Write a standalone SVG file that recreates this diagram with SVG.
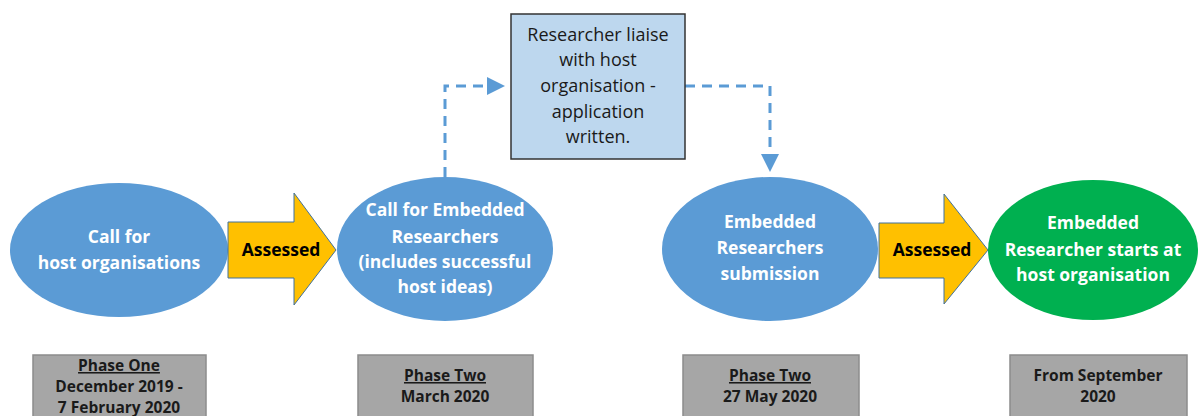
<svg xmlns="http://www.w3.org/2000/svg" width="1200" height="416" viewBox="0 0 1200 416">
<style>
.ell{fill:#5B9BD5;}
.grn{fill:#00B050;}
.arr{fill:#FFC000;stroke:#41719C;stroke-width:1;}
.box{fill:#BDD7EE;stroke:#333333;stroke-width:1.5;}
.ph{fill:#A6A6A6;stroke:#8C8C8C;stroke-width:1.5;}
.wt{font-family:"Open Sans",Lato,sans-serif;font-weight:bold;font-size:17.5px;fill:#FFFFFF;text-anchor:middle;}
.bt{font-family:"Open Sans",Lato,sans-serif;font-weight:bold;font-size:17.5px;fill:#000000;text-anchor:middle;}
.nt{font-family:"Open Sans",Lato,sans-serif;font-size:18px;fill:#1a1a1a;text-anchor:middle;}
.pt{font-family:"Open Sans",Lato,sans-serif;font-weight:bold;font-size:15.5px;fill:#1a1a1a;text-anchor:middle;}
.con{fill:none;stroke:#5B9BD5;stroke-width:3;stroke-dasharray:10 7;}
</style>
<defs>
<marker id="ah" markerWidth="6" markerHeight="6" refX="5" refY="3" orient="auto" markerUnits="strokeWidth">
<path d="M0,0 L6,3 L0,6 Z" fill="#5B9BD5"/>
</marker>
</defs>
<g id="connectors">
<path class="con" d="M445,177 L445,86 L502,86" marker-end="url(#ah)"/>
<path class="con" d="M685,86 L770,86 L770,169" marker-end="url(#ah)"/>
</g>
<g id="node-call-host">
<ellipse class="ell" cx="119" cy="250" rx="109" ry="67"/>
<text class="wt" x="119" y="243">Call for</text>
<text class="wt" x="119" y="269">host organisations</text>
</g>
<g id="arrow-assessed-1">
<path class="arr" d="M228,222 L294,222 L294,193 L336,250 L294,305 L294,278 L228,278 Z"/>
<text class="bt" x="281" y="256">Assessed</text>
</g>
<g id="node-call-embedded">
<ellipse class="ell" cx="445" cy="249" rx="108" ry="72"/>
<text class="wt" x="445" y="216">Call for Embedded</text>
<text class="wt" x="445" y="243">Researchers</text>
<text class="wt" x="445" y="268">(includes successful</text>
<text class="wt" x="445" y="293">host ideas)</text>
</g>
<g id="node-liaise">
<rect class="box" x="511" y="14" width="174" height="145"/>
<text class="nt" x="598" y="41">Researcher liaise</text>
<text class="nt" x="598" y="66">with host</text>
<text class="nt" x="598" y="92">organisation -</text>
<text class="nt" x="598" y="118">application</text>
<text class="nt" x="598" y="143">written.</text>
</g>
<g id="node-submission">
<ellipse class="ell" cx="770" cy="249" rx="108" ry="72"/>
<text class="wt" x="770" y="228">Embedded</text>
<text class="wt" x="770" y="254">Researchers</text>
<text class="wt" x="770" y="280">submission</text>
</g>
<g id="arrow-assessed-2">
<path class="arr" d="M879,223 L944,223 L944,194 L988,250 L944,304 L944,278 L879,278 Z"/>
<text class="bt" x="932" y="256">Assessed</text>
</g>
<g id="node-starts">
<ellipse class="grn" cx="1093" cy="250" rx="105" ry="70"/>
<text class="wt" x="1093" y="229">Embedded</text>
<text class="wt" x="1093" y="256">Researcher starts at</text>
<text class="wt" x="1093" y="281">host organisation</text>
</g>
<g id="phase-1">
<rect class="ph" x="33" y="355" width="173" height="70"/>
<text class="pt" x="119" y="371" text-decoration="underline">Phase One</text>
<text class="pt" x="119" y="392">December 2019 -</text>
<text class="pt" x="119" y="413">7 February 2020</text>
</g>
<g id="phase-2">
<rect class="ph" x="358" y="355" width="175" height="70"/>
<text class="pt" x="445" y="381" text-decoration="underline">Phase Two</text>
<text class="pt" x="445" y="402">March 2020</text>
</g>
<g id="phase-3">
<rect class="ph" x="683" y="355" width="176" height="70"/>
<text class="pt" x="770" y="381" text-decoration="underline">Phase Two</text>
<text class="pt" x="770" y="402">27 May 2020</text>
</g>
<g id="phase-4">
<rect class="ph" x="1010" y="355" width="177" height="70"/>
<text class="pt" x="1098" y="381">From September</text>
<text class="pt" x="1098" y="402">2020</text>
</g>
</svg>
